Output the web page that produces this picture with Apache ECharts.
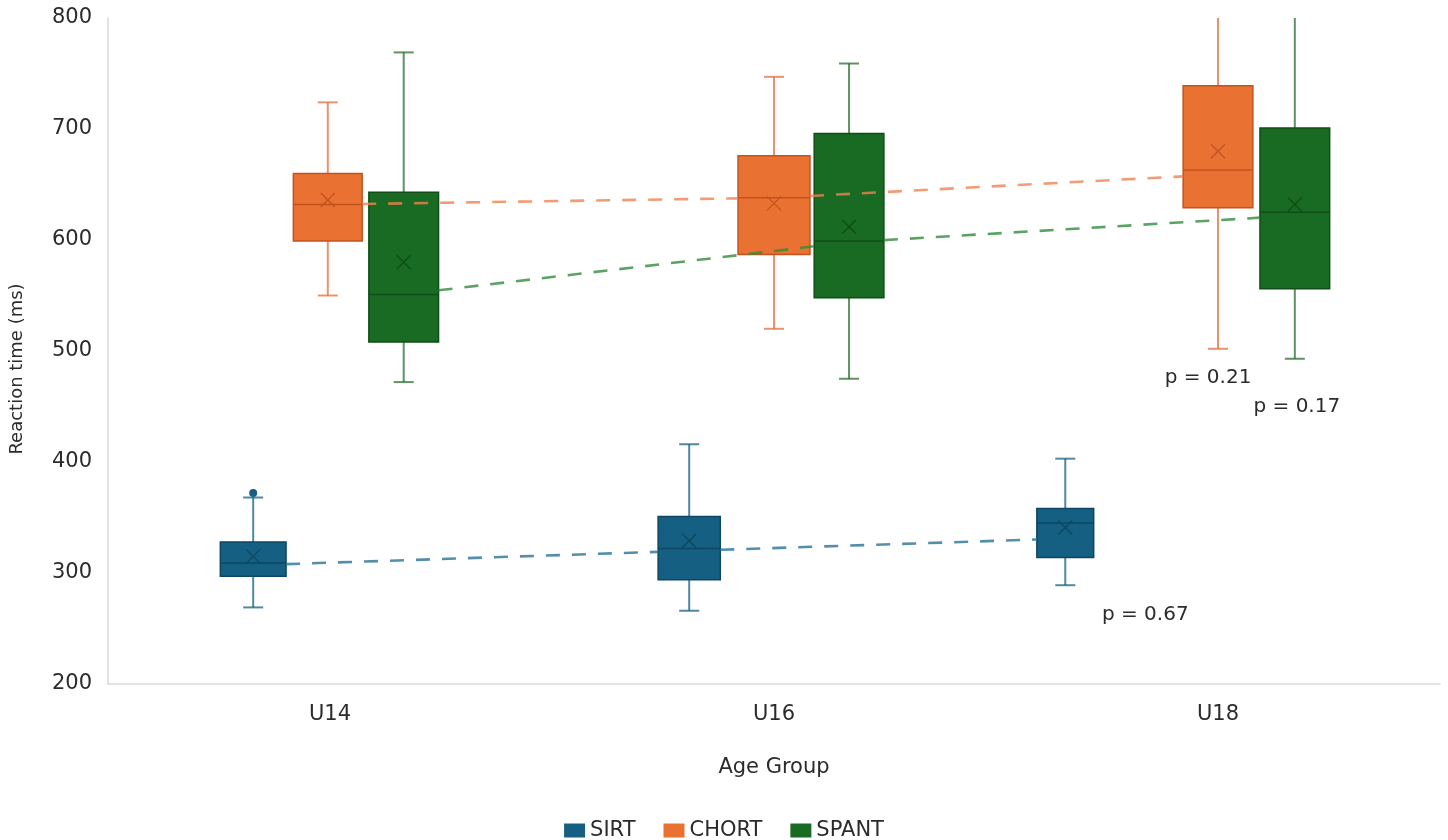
<!DOCTYPE html>
<html><head><meta charset="utf-8">
<script src="https://cdn.jsdelivr.net/npm/echarts@6/dist/echarts.min.js"></script>
<style>html,body{margin:0;padding:0;background:#fff}#c{width:1448px;height:840px}</style>
</head><body><div id="c"></div>
<script>
// ---------- data ----------
const categories = ['U14', 'U16', 'U18'];
const yTicks = [200, 300, 400, 500, 600, 700, 800];
// [min, q1, median, q3, max]
const sirtBox  = [[269, 297, 309, 328, 368], [266, 294, 322, 351, 416], [289, 314, 345, 358, 403]];
const sirtMean = [315, 329, 341];
const sirtOutliers = [[0, 372]];
const chortBox  = [[550, 599, 632, 660, 724], [520, 587, 638, 676, 747], [502, 629, 663, 739, 830]];
const chortMean = [636, 633, 680];
const spantBox  = [[472, 508, 551, 643, 769], [475, 548, 599, 696, 759], [493, 556, 625, 701, 830]];
const spantMean = [580, 612, 632];
const sirtTrend  = [307, 320, 331];
const chortTrend = [632, 638, 659];
const spantTrend = [551, 598, 622];
const pLabels = { SIRT: 'p = 0.67', CHORT: 'p = 0.21', SPANT: 'p = 0.17' };

// ---------- layout / style (not data) ----------
const FONT = 'DejaVu Sans';
const TXT = '#2b2b2b';
const style = {
  SIRT:  { fill: '#156082', dark: '#0d4661', light: 'rgba(21,96,130,0.75)', dash: 'rgba(40,115,150,0.8)',
           offset: [-0.173, -0.191, -0.344], width: [0.148, 0.14, 0.128], p: { idx: 2, dx: 80, dy: 30 } },
  CHORT: { fill: '#E97132', dark: '#c25320', light: 'rgba(226,110,60,0.75)', dash: 'rgba(240,130,80,0.8)',
           offset: [-0.005, 0, 0], width: [0.155, 0.162, 0.157], p: { idx: 2, dx: -10, dy: 29 } },
  SPANT: { fill: '#196B24', dark: '#0f4e17', light: 'rgba(40,110,50,0.75)', dash: 'rgba(50,140,60,0.8)',
           offset: [0.166, 0.169, 0.173], width: [0.157, 0.157, 0.157], p: { idx: 2, dx: 2, dy: 48 } }
};
const Y_MIN = 200, Y_MAX = 800;

function boxRows(boxes, means) {
  return boxes.map((b, i) => [i, b[0], b[1], b[2], b[3], b[4], means[i]]);
}

function boxRender(key, outliers) {
  const s = style[key];
  return function (params, api) {
    const i = api.value(0);
    const band = api.size([1, 0])[0];
    const cx = api.coord([i, Y_MIN])[0] + s.offset[i] * band;
    const hw = s.width[i] * band / 2;
    const y = v => api.coord([i, Math.max(Y_MIN, Math.min(Y_MAX, v))])[1];
    const mn = api.value(1), q1 = api.value(2), md = api.value(3), q3 = api.value(4), mx = api.value(5), mean = api.value(6);
    const ch = [];
    const ln = (x1, y1, x2, y2, c, w) => ch.push({ type: 'line', shape: { x1, y1, x2, y2 }, style: { stroke: c, lineWidth: w } });
    ln(cx, y(q3), cx, y(mx), s.light, 2);
    ln(cx, y(q1), cx, y(mn), s.light, 2);
    if (mx <= Y_MAX) ln(cx - 10, y(mx), cx + 10, y(mx), s.light, 2);
    ln(cx - 10, y(mn), cx + 10, y(mn), s.light, 2);
    ch.push({ type: 'rect', shape: { x: cx - hw, y: y(q3), width: 2 * hw, height: y(q1) - y(q3) },
              style: { fill: s.fill, stroke: s.dark, lineWidth: 1.5 } });
    ln(cx - hw, y(md), cx + hw, y(md), s.dark, 1.5);
    const my = y(mean), k = 7;
    ln(cx - k, my - k, cx + k, my + k, s.dark, 1.3);
    ln(cx - k, my + k, cx + k, my - k, s.dark, 1.3);
    (outliers || []).filter(o => o[0] === i).forEach(o => {
      ch.push({ type: 'circle', shape: { cx, cy: y(o[1]), r: 4 }, style: { fill: s.fill } });
    });
    if (s.p && s.p.idx === i) {
      ch.push({ type: 'text', style: { text: pLabels[key], x: cx + s.p.dx, y: y(mn) + s.p.dy,
        fill: TXT, font: '20px "' + FONT + '"', align: 'center', verticalAlign: 'middle' } });
    }
    return { type: 'group', children: ch };
  };
}

function trendRender(key, trend) {
  const s = style[key];
  return function (params, api) {
    const i = api.value(0);
    if (i >= trend.length - 1) return null;
    const band = api.size([1, 0])[0];
    const a = api.coord([i, trend[i]]), b = api.coord([i + 1, trend[i + 1]]);
    a[0] += s.offset[i] * band; b[0] += s.offset[i + 1] * band;
    const h1 = s.width[i] * band / 2, h2 = s.width[i + 1] * band / 2;
    const dx = b[0] - a[0], dy = b[1] - a[1];
    const t1 = h1 / dx, t2 = 1 - h2 / dx;
    return { type: 'line',
      shape: { x1: a[0] + dx * t1, y1: a[1] + dy * t1, x2: a[0] + dx * t2, y2: a[1] + dy * t2 },
      style: { stroke: s.dash, lineWidth: 2.6, lineDash: [14, 12] } };
  };
}

function boxSeries(key, boxes, means, outliers) {
  return { name: key, type: 'custom', renderItem: boxRender(key, outliers),
    data: boxRows(boxes, means), encode: { x: 0, y: [1, 2, 3, 4, 5] }, z: 2,
    itemStyle: { color: style[key].fill }, clip: true };
}
function trendSeries(key, trend) {
  return { name: key + ' trend', type: 'custom', renderItem: trendRender(key, trend),
    data: trend.map((v, i) => [i, v]), encode: { x: 0, y: 1 }, z: 5, silent: true, clip: true };
}

const chart = echarts.init(document.getElementById('c'));
chart.setOption({
  animation: false,
  backgroundColor: '#fff',
  grid: { left: 106, right: 8, top: 18, bottom: 156, containLabel: false },
  legend: { data: ['SIRT', 'CHORT', 'SPANT'], left: 'center', top: 815, icon: 'rect',
    itemWidth: 21, itemHeight: 14, itemGap: 28,
    textStyle: { fontFamily: FONT, fontSize: 21, color: TXT } },
  xAxis: { type: 'category', data: categories, boundaryGap: true,
    name: 'Age Group', nameLocation: 'middle', nameGap: 73,
    nameTextStyle: { fontFamily: FONT, fontSize: 21, color: TXT },
    axisLine: { lineStyle: { color: '#d9d9d9', width: 1.5 } }, axisTick: { show: false },
    axisLabel: { fontFamily: FONT, fontSize: 21, color: TXT, margin: 20 } },
  yAxis: { type: 'value', min: yTicks[0], max: yTicks[yTicks.length - 1], interval: 100,
    name: 'Reaction time (ms)', nameLocation: 'middle', nameGap: 82,
    nameTextStyle: { fontFamily: FONT, fontSize: 18, color: TXT, padding: [0, 36, 0, 0] },
    axisLine: { show: true, lineStyle: { color: '#d9d9d9', width: 1.5 } }, axisTick: { show: false },
    splitLine: { show: false },
    axisLabel: { fontFamily: FONT, fontSize: 21, color: TXT, margin: 16 } },
  series: [
    boxSeries('SIRT', sirtBox, sirtMean, sirtOutliers),
    boxSeries('CHORT', chortBox, chortMean),
    boxSeries('SPANT', spantBox, spantMean),
    trendSeries('SIRT', sirtTrend),
    trendSeries('CHORT', chortTrend),
    trendSeries('SPANT', spantTrend)
  ]
});
</script>
</body></html>
